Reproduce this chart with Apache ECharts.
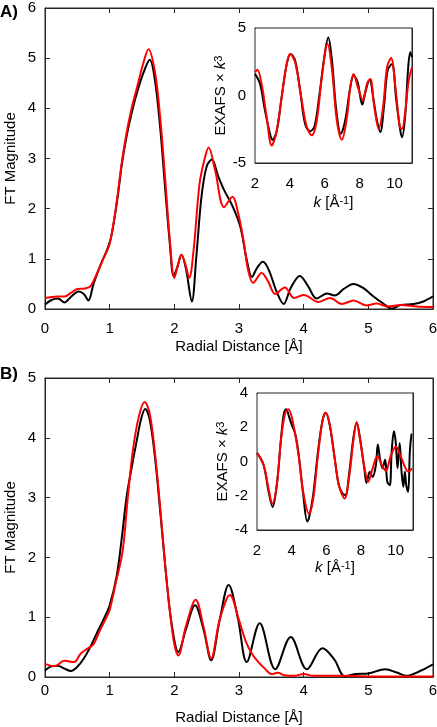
<!DOCTYPE html>
<html><head><meta charset="utf-8">
<script src="https://cdn.jsdelivr.net/npm/echarts@6/dist/echarts.min.js"></script>
<style>html,body{margin:0;padding:0;background:#fff}#c{width:437px;height:727px}</style>
</head><body><div id="c"></div>
<script>
// ---- Panel A: FT magnitude ----
const rBlackA = [0,0.1,0.2,0.3,0.4,0.52,0.6,0.67,0.75,0.85,0.95,1.02,1.11,1.19,1.26,1.34,1.42,1.52,1.62,1.70,1.78,1.86,1.93,1.99,2.05,2.11,2.18,2.27,2.34,2.42,2.5,2.58,2.68,2.77,2.9,3.02,3.12,3.2,3.28,3.37,3.46,3.58,3.69,3.8,3.94,4.07,4.2,4.36,4.48,4.62,4.77,4.92,5.08,5.22,5.36,5.5,5.7,5.85,6.0];
const ftBlackA = [0.09,0.18,0.21,0.13,0.24,0.35,0.3,0.17,0.5,0.85,1.15,1.42,2.11,2.9,3.43,3.9,4.3,4.7,4.97,4.56,3.63,2.37,1.31,0.66,0.85,1.08,0.8,0.15,1.04,2.24,2.84,2.98,2.64,2.37,2.05,1.64,0.98,0.64,0.82,0.94,0.78,0.35,0.1,0.42,0.66,0.45,0.21,0.31,0.27,0.4,0.5,0.42,0.25,0.12,0.01,0.08,0.1,0.15,0.25];
const rRedA = [0,0.1,0.2,0.3,0.4,0.5,0.62,0.7,0.8,0.9,1.0,1.1,1.18,1.26,1.34,1.42,1.52,1.6,1.7,1.78,1.86,1.93,2.0,2.05,2.11,2.17,2.23,2.3,2.39,2.47,2.53,2.63,2.77,2.9,2.98,3.07,3.14,3.22,3.35,3.45,3.56,3.71,3.85,4.0,4.23,4.41,4.59,4.77,4.97,5.13,5.3,5.5,5.75,6.0];
const ftRedA = [0.22,0.24,0.25,0.25,0.32,0.4,0.41,0.45,0.7,1.0,1.3,2.05,2.85,3.5,4.0,4.4,4.9,5.18,4.73,3.83,2.57,1.38,0.62,0.85,1.08,0.9,0.62,1.2,2.5,3.0,3.22,2.77,2.03,2.24,1.95,1.37,0.78,0.52,0.72,0.55,0.3,0.43,0.22,0.28,0.14,0.22,0.1,0.17,0.07,0.11,0.05,0.08,0.05,0.04];
// ---- Panel A inset: EXAFS x k^3 ----
const kBlackA = [2.0,2.29,2.57,2.86,3.0,3.25,3.53,3.82,4.05,4.3,4.59,4.87,5.16,5.41,5.7,5.97,6.2,6.41,6.66,6.92,7.17,7.46,7.65,7.88,8.15,8.32,8.57,8.8,8.99,9.18,9.41,9.6,9.85,10.1,10.33,10.43,10.62,10.77,10.9,11.0];
const chiBlackA = [1.6,0.86,-1.1,-2.83,-3.28,-2.6,-0.1,2.34,3.08,2.6,0.37,-2.1,-2.64,-2.3,0.12,2.83,4.3,2.6,-1.1,-2.83,-1.85,0.6,1.48,1.0,-0.67,0.25,1.16,-0.37,-1.85,-2.7,-0.6,1.85,2.34,-0.37,-2.6,-3.1,-1.35,1.85,3.2,2.83];
const kRedA = [2.0,2.13,2.38,2.67,2.96,3.21,3.53,3.82,4.01,4.3,4.68,4.97,5.26,5.54,5.83,6.16,6.41,6.69,6.98,7.27,7.46,7.65,7.9,8.19,8.42,8.61,8.84,9.09,9.34,9.57,9.8,10.05,10.3,10.43,10.62,10.81,11.0];
const chiRedA = [1.72,1.9,0.86,-1.6,-3.7,-2.83,-0.12,2.34,3.08,2.46,-0.37,-2.34,-2.95,-1.85,1.35,3.82,1.97,-1.85,-3.28,-1.6,0.6,1.6,0.6,-0.37,0.86,1.23,-0.86,-2.46,-0.86,2.09,2.78,0.6,-2.34,-2.46,-1.1,1.1,2.09];
// ---- Panel B: FT magnitude ----
const rBlackB = [0,0.1,0.2,0.3,0.4,0.5,0.6,0.7,0.8,0.9,1.0,1.11,1.19,1.26,1.34,1.42,1.49,1.55,1.62,1.70,1.78,1.86,1.93,2.01,2.06,2.18,2.32,2.45,2.57,2.7,2.84,2.98,3.12,3.32,3.56,3.8,4.05,4.29,4.47,4.64,4.8,5.0,5.26,5.45,5.59,5.8,6.0];
const ftBlackB = [0.11,0.18,0.19,0.14,0.1,0.17,0.31,0.5,0.73,0.95,1.2,1.7,2.35,3.0,3.5,3.96,4.33,4.48,4.3,3.68,2.79,1.85,1.12,0.56,0.42,0.8,1.2,0.8,0.28,0.95,1.54,1.0,0.25,0.9,0.13,0.67,0.13,0.48,0.3,0.01,0.05,0.06,0.13,0.07,0.02,0.1,0.21];
const rRedB = [0,0.15,0.3,0.45,0.55,0.65,0.75,0.85,0.95,1.0,1.1,1.2,1.28,1.36,1.45,1.54,1.62,1.7,1.78,1.86,1.93,2.0,2.06,2.18,2.33,2.45,2.57,2.7,2.86,3.0,3.1,3.2,3.3,3.4,3.5,3.6,3.7,3.85,4.0,4.15,4.3,4.6,5.0,5.5,6.0];
const ftRedB = [0.22,0.18,0.27,0.25,0.39,0.47,0.55,0.78,1.0,1.12,1.6,2.1,3.0,3.8,4.35,4.6,4.4,3.75,2.85,1.85,1.1,0.55,0.36,0.85,1.29,0.85,0.31,0.95,1.37,0.95,0.61,0.39,0.25,0.14,0.05,0.07,0.03,0.02,0.05,0.02,0.02,0.02,0.01,0.01,0.01];
// ---- Panel B inset ----
const kBlackB = [2.0,2.38,2.67,2.9,3.14,3.39,3.55,3.68,3.87,4.0,4.19,4.38,4.67,4.9,5.0,5.24,5.52,5.77,5.96,6.19,6.48,6.72,6.95,7.1,7.33,7.56,7.75,7.94,8.19,8.32,8.51,8.67,8.86,8.97,9.09,9.24,9.39,9.52,9.66,9.77,9.9,10.0,10.11,10.23,10.34,10.44,10.53,10.61,10.72,10.82,10.91,10.95];
const chiBlackB = [0.5,-0.2,-1.77,-2.65,-1.38,1.38,2.8,3.05,2.55,2.16,1.67,0.59,-1.96,-3.5,-3.3,-1.96,0.59,2.36,2.85,2.16,0.2,-1.38,-1.9,-1.95,-0.59,1.38,2.26,1.38,-0.39,-1.25,-0.6,-0.9,-0.2,1.0,0.2,-0.4,0.1,-1.2,-1.38,0.6,1.77,1.18,-0.4,1.08,-0.6,-1.47,-0.6,-1.38,-1.77,0.6,1.57,1.6];
const kRedB = [2.0,2.38,2.67,2.88,3.14,3.39,3.62,3.81,4.05,4.38,4.67,5.0,5.24,5.52,5.77,5.96,6.19,6.48,6.72,7.05,7.33,7.56,7.75,7.94,8.19,8.42,8.67,8.95,9.2,9.43,9.71,10.0,10.29,10.57,10.72,10.95];
const chiRedB = [0.5,-0.2,-1.6,-2.46,-1.38,1.3,2.8,3.05,2.4,0.5,-1.8,-3.05,-2.2,0.4,2.3,2.85,2.2,0.2,-1.38,-2.16,-0.8,1.2,2.3,1.3,-0.3,-1.18,-0.4,0.3,-0.2,-0.55,0.3,0.88,0.3,-0.4,-0.59,-0.4];
// ---- label text ----
const xNameMain = 'Radial Distance [Å]';
const yNameMain = 'FT Magnitude';
const xNameInset = '{i|k} [Å{s|-1}]';
const yNameInset = 'EXAFS × {i|k}{s|3}';

const pairs = (xs, ys) => xs.map((x, i) => [x, ys[i]]);
const FONT = 'Liberation Sans';
const AX = '#262626';
const lbl = {color: '#000', fontFamily: FONT, fontSize: 15};
const richName = {rich: {i: {fontStyle: 'italic', fontSize: 15, fontFamily: FONT, color: '#000'}, s: {fontSize: 11, fontFamily: FONT, color: '#000', verticalAlign: 'top', lineHeight: 11}}};

function baseAxis(gi, min, max, interval, tickLen) {
  return {
    type: 'value', gridIndex: gi, min, max, interval,
    axisLine: {show: true, onZero: false, lineStyle: {color: AX, width: 1}},
    axisTick: {show: true, inside: true, length: tickLen, lineStyle: {color: AX, width: 1}},
    splitLine: {show: false}
  };
}
function xAxes(gi, min, max, interval, margin, name, nameGap, tickLen, isInset) {
  return [
    Object.assign(baseAxis(gi, min, max, interval, tickLen), {
      position: 'bottom',
      axisLabel: Object.assign({margin, showMaxLabel: !isInset}, lbl),
      name, nameLocation: 'middle', nameGap,
      nameTextStyle: Object.assign({}, lbl, isInset ? richName : {})
    }),
    Object.assign(baseAxis(gi, min, max, interval, tickLen), {
      position: 'top', axisLabel: {show: true, color: 'rgba(0,0,0,0)', fontSize: 1}
    })
  ];
}
function yAxes(gi, min, max, interval, name, nameGap, tickLen, isInset) {
  return [
    Object.assign(baseAxis(gi, min, max, interval, tickLen), {
      position: 'left',
      axisLabel: Object.assign({margin: 9}, lbl),
      name, nameLocation: 'middle', nameGap, nameRotate: 90,
      nameMoveOverlap: isInset,
      nameTextStyle: Object.assign({}, lbl, isInset ? richName : {})
    }),
    Object.assign(baseAxis(gi, min, max, interval, tickLen), {
      position: 'right', axisLabel: {show: true, color: 'rgba(0,0,0,0)', fontSize: 1}
    })
  ];
}

const chart = echarts.init(document.getElementById('c'), null, {renderer: 'canvas'});
const line = (xi, yi, data, color, w, z) => ({
  type: 'line', xAxisIndex: xi, yAxisIndex: yi, data, showSymbol: false, symbol: 'none',
  smooth: 0.35, lineStyle: {color, width: w}, z, animation: false
});
const border = {show: true, borderColor: AX, borderWidth: 1, outerBoundsMode: 'none', containLabel: false};

chart.setOption({
  animation: false,
  backgroundColor: '#fff',
  grid: [
    Object.assign({left: 45, top: 8, width: 388, height: 301}, border),
    Object.assign({left: 255, top: 28, width: 157, height: 135, backgroundColor: '#fff', z: 5}, border),
    Object.assign({left: 45, top: 378, width: 388, height: 299}, border),
    Object.assign({left: 257, top: 393, width: 156, height: 137, backgroundColor: '#fff', z: 5}, border)
  ],
  xAxis: [].concat(
    xAxes(0, 0, 6, 1, 12, xNameMain, 30, 5, false),
    xAxes(1, 2, 11, 2, 13, xNameInset, 32, 3, true),
    xAxes(2, 0, 6, 1, 6, xNameMain, 33, 5, false),
    xAxes(3, 2, 11, 2, 13, xNameInset, 30, 3, true)
  ),
  yAxis: [].concat(
    yAxes(0, 0, 6, 1, yNameMain, 27, 5, false),
    yAxes(1, -5, 5, 5, yNameInset, 26, 3, true),
    yAxes(2, 0, 5, 1, yNameMain, 27, 5, false),
    yAxes(3, -4, 4, 2, yNameInset, 26, 3, true)
  ),
  series: [
    line(0, 0, pairs(rBlackA, ftBlackA), '#000', 2, 2),
    line(0, 0, pairs(rRedA, ftRedA), '#ff0000', 2, 3),
    line(2, 2, pairs(kBlackA, chiBlackA), '#000', 2, 6),
    line(2, 2, pairs(kRedA, chiRedA), '#ff0000', 2, 7),
    line(4, 4, pairs(rBlackB, ftBlackB), '#000', 2, 2),
    line(4, 4, pairs(rRedB, ftRedB), '#ff0000', 2, 3),
    line(6, 6, pairs(kBlackB, chiBlackB), '#000', 2, 6),
    line(6, 6, pairs(kRedB, chiRedB), '#ff0000', 2, 7)
  ],
  graphic: [
    {type: 'text', left: 0, top: 4, style: {text: 'A)', font: 'bold 17px "Liberation Sans"', fill: '#000'}},
    {type: 'text', left: 0, top: 366, style: {text: 'B)', font: 'bold 17px "Liberation Sans"', fill: '#000'}}
  ]
});
</script></body></html>
